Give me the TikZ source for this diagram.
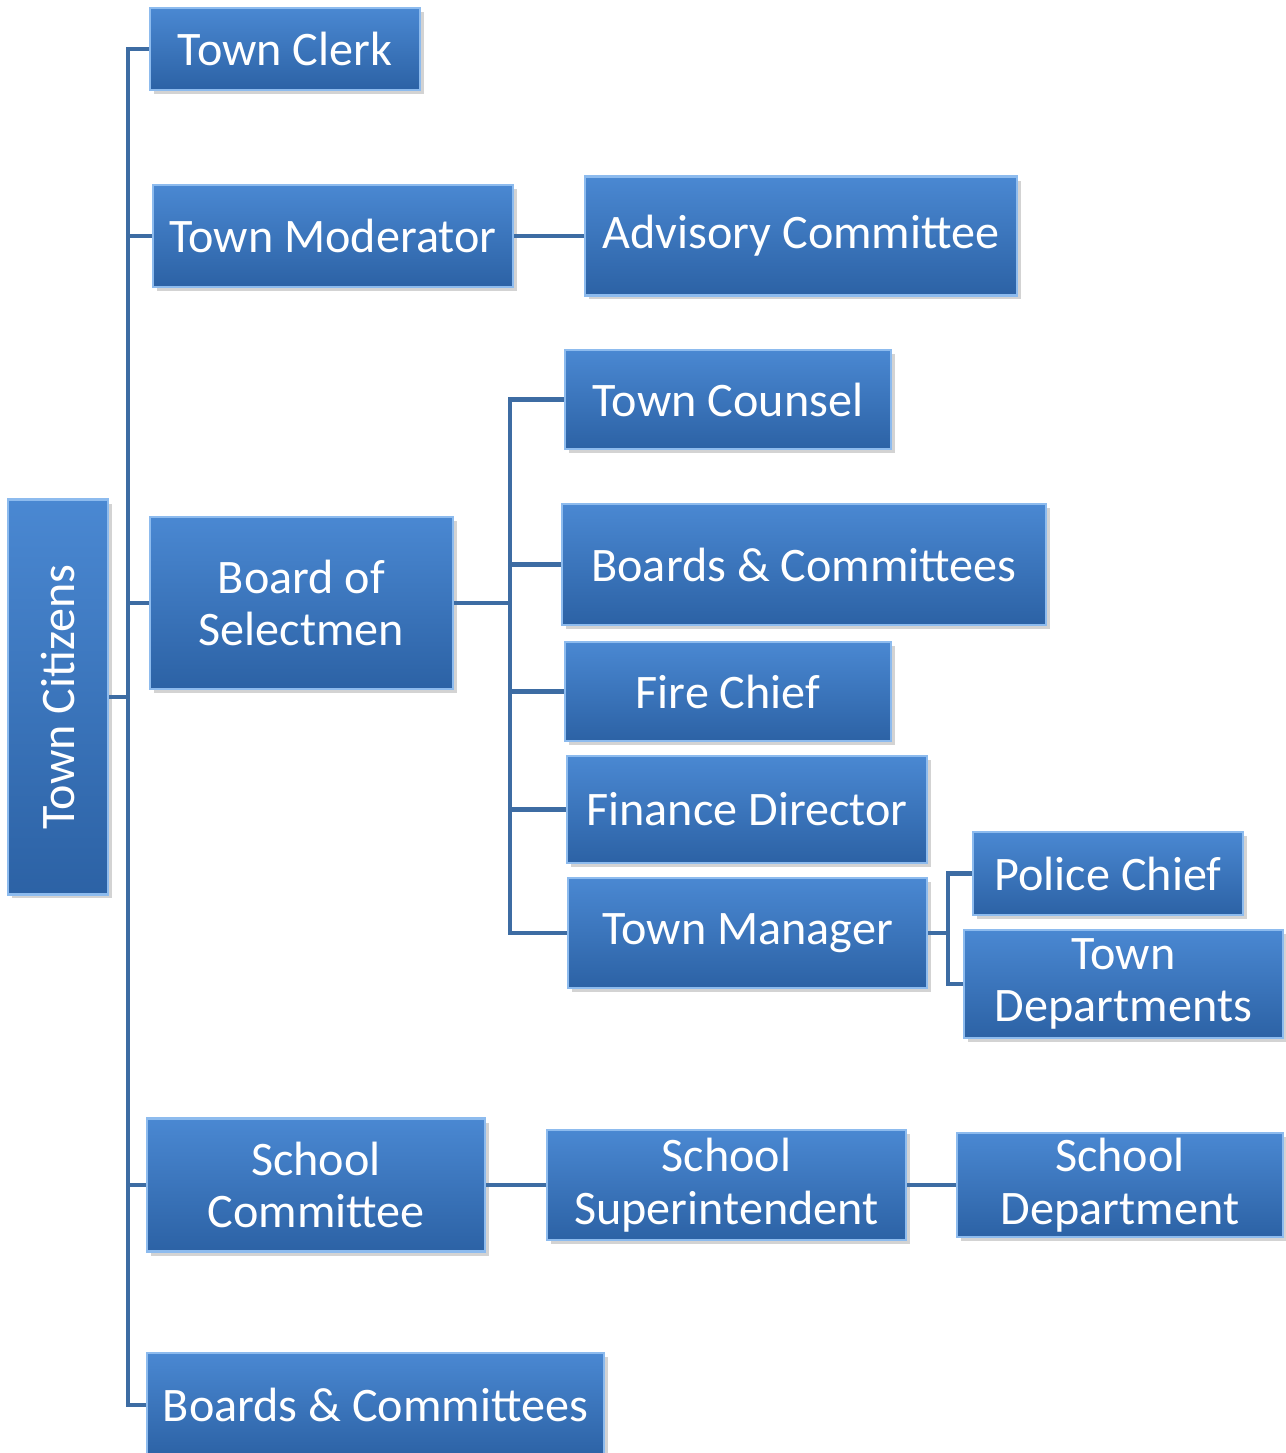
\documentclass[tikz,border=0pt]{standalone}
\usepackage{fontspec}
\setmainfont{Carlito}
\usetikzlibrary{shadows}
\definecolor{boxtop}{HTML}{4A88D2}
\definecolor{boxbot}{HTML}{2C62A5}
\definecolor{boxedge}{HTML}{8DBBEE}
\definecolor{linkblue}{HTML}{3D6CA3}
\tikzstyle{unit} = [rectangle, inner sep=0pt, align=center, text=white, font=\fontsize{27.4}{30}\selectfont, top color=boxtop, bottom color=boxbot, draw=boxedge, line width=1.2pt, drop shadow={opacity=0.35, shadow xshift=0.08cm, shadow yshift=-0.08cm}]
\tikzstyle{link} = [line width=2.6pt, draw=linkblue]

\begin{document}
\begin{tikzpicture}[x=0.02cm, y=-0.02cm]
\useasboundingbox (0,0) rectangle (1285,1453);

% Nodes
\node (citizens) [unit, rotate=90, minimum width=7.9cm, minimum height=2cm] at (58,697) {Town Citizens};
\node (clerk) [unit, minimum width=5.4cm, minimum height=1.64cm] at (285,49) {Town Clerk};
\node (moderator) [unit, minimum width=7.2cm, minimum height=2.04cm] at (333,236) {Town Moderator};
\node (advisory) [unit, minimum width=8.64cm, minimum height=2.38cm] at (801,236) {Advisory Committee};
\node (selectmen) [unit, minimum width=6.06cm, minimum height=3.44cm] at (301.5,603) {Board of\\Selectmen};
\node (counsel) [unit, minimum width=6.52cm, minimum height=1.98cm] at (728,399.5) {Town Counsel};
\node (boardsA) [unit, minimum width=9.68cm, minimum height=2.42cm] at (804,564.5) {Boards \& Committees};
\node (fire) [unit, minimum width=6.52cm, minimum height=1.98cm] at (728,691.5) {Fire Chief};
\node (finance) [unit, minimum width=7.2cm, minimum height=2.14cm] at (747,809.5) {Finance Director};
\node (manager) [unit, minimum width=7.18cm, minimum height=2.2cm] at (747.5,933) {Town Manager};
\node (police) [unit, minimum width=5.4cm, minimum height=1.66cm] at (1108,873.5) {Police Chief};
\node (towndept) [unit, minimum width=6.38cm, minimum height=2.16cm] at (1123.5,984) {Town\\Departments};
\node (schoolcom) [unit, minimum width=6.76cm, minimum height=2.66cm] at (316,1185) {School\\Committee};
\node (superint) [unit, minimum width=7.18cm, minimum height=2.2cm] at (726.5,1185) {School\\Superintendent};
\node (schooldept) [unit, minimum width=6.52cm, minimum height=2.08cm] at (1120,1185) {School\\Department};
\node (boardsB) [unit, minimum width=9.14cm, minimum height=2.08cm] at (375.5,1405) {Boards \& Committees};

\coordinate (spine) at (128,697);
\coordinate (selhub) at (510,603);
\coordinate (mgrhub) at (948,933);

% Connections
\draw [link] (citizens.south) -- (spine);
\draw [link] (clerk.west) -| (spine) |- (boardsB.west);
\draw [link] (moderator.west) -- (moderator.west -| spine);
\draw [link] (selectmen.west) -- (selectmen.west -| spine);
\draw [link] (schoolcom.west) -- (schoolcom.west -| spine);
\draw [link] (moderator) -- (advisory);

\draw [link] (selectmen.east) -- (selhub);
\draw [link] (counsel.west) -| (selhub) |- (manager.west);
\draw [link] (boardsA.west) -- (boardsA.west -| selhub);
\draw [link] (fire.west) -- (fire.west -| selhub);
\draw [link] (finance.west) -- (finance.west -| selhub);

\draw [link] (manager.east) -- (mgrhub);
\draw [link] (police.west) -| (mgrhub) |- (towndept.west);

\draw [link] (schoolcom) -- (superint);
\draw [link] (superint) -- (schooldept);

\end{tikzpicture}
\end{document}
